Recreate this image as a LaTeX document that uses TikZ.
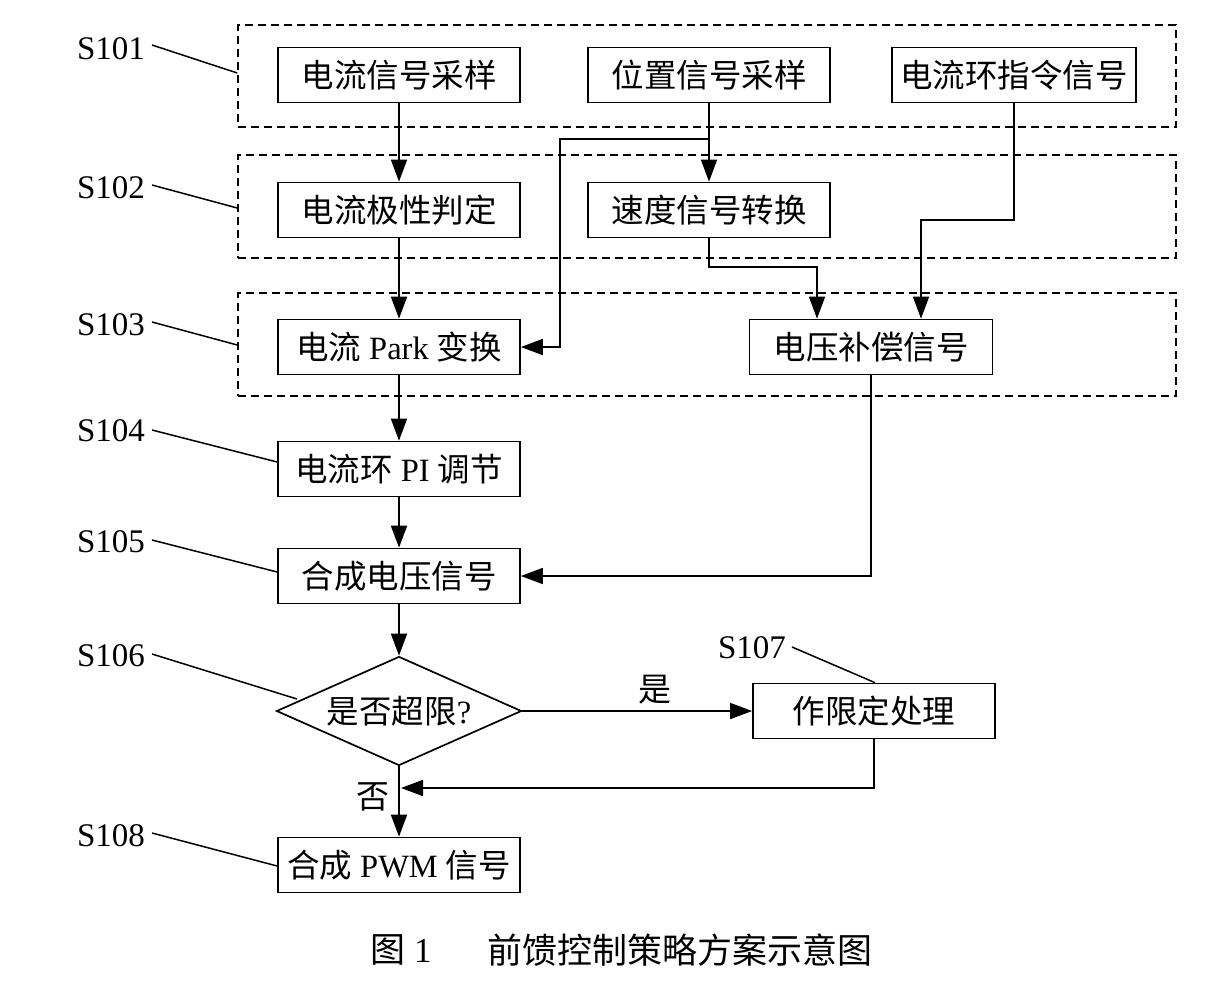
\documentclass[tikz,border=0pt]{standalone}
\usepackage{fontspec}
\setmainfont{Liberation Serif}
\newfontfamily\cjk{Noto Sans CJK SC}
\usetikzlibrary{arrows.meta,shapes.geometric}
\begin{document}
\begin{tikzpicture}[x=1pt,y=-1pt,
  box/.style={draw,line width=1.7pt,minimum width=242pt,minimum height=55pt,inner sep=0pt,font=\fontsize{32.5}{36}\selectfont},
  grp/.style={draw,line width=1.5pt,dash pattern=on 8pt off 5pt,minimum width=938pt,minimum height=102pt,inner sep=0pt},
  arr/.style={line width=1.7pt,-{Triangle[length=22pt,width=16pt]}},
  lbl/.style={font=\fontsize{33}{36}\selectfont,inner sep=0pt},
  lead/.style={line width=1.5pt}]
\useasboundingbox (0,0) rectangle (1228,980);
% groups
\node[grp] (g1) at (707,76) {};
\node[grp,minimum height=103pt] (g2) at (707,206.5) {};
\node[grp,minimum height=103pt] (g3) at (707,344.5) {};
% boxes
\node[box] (a1) at (399,75) {\cjk 电流信号采样};
\node[box] (a2) at (709,75) {\cjk 位置信号采样};
\node[box,minimum width=244pt] (a3) at (1014,75) {\cjk 电流环指令信号};
\node[box] (b1) at (399,210) {\cjk 电流极性判定};
\node[box] (b2) at (709,210) {\cjk 速度信号转换};
\node[box] (c1) at (399,347) {{\cjk 电流}~Park~{\cjk 变换}};
\node[box,minimum width=243pt] (c2) at (871,347) {\cjk 电压补偿信号};
\node[box] (d) at (399,469) {{\cjk 电流环}~PI~{\cjk 调节}};
\node[box] (e) at (399,576) {\cjk 合成电压信号};
\node[draw,diamond,aspect=2.25,minimum width=245pt,minimum height=109pt,inner sep=0pt,line width=1.7pt,font=\fontsize{32.5}{36}\selectfont] (f) at (399,711) {{\cjk 是否超限}?};
\node[box] (g) at (874,711) {\cjk 作限定处理};
\node[box] (h) at (399,865) {{\cjk 合成}~PWM~{\cjk 信号}};
% connectors
\draw[arr] (a1) -- (b1);
\draw[arr] (a2) -- (b2);
\draw[arr] (709,139) -- (560,139) -- (560,347) -- (c1.east);
\draw[arr] (a3.south) |- (921,220) -- ([xshift=50pt]c2.north);
\draw[arr] (b2.south) |- (817,267) -- ([xshift=-54pt]c2.north);
\draw[arr] (b1) -- (c1);
\draw[arr] (c1) -- (d);
\draw[arr] (d) -- (e);
\draw[arr] (c2.south) |- (e.east);
\draw[arr] (e) -- (f);
\draw[arr] (f.east) -- (g.west);
\node[lbl] (yes) at (655,690) {\cjk 是};
\draw[arr] (f.south) -- (h.north);
\coordinate (j) at (401,788);
\draw[arr] (g.south) |- (j);
\node[lbl] (no) at (373,797) {\cjk 否};
% step labels
\node[lbl] (s1) at (111,49) {S101};
\node[lbl] (s2) at (111,188) {S102};
\node[lbl] (s3) at (111,325) {S103};
\node[lbl] (s4) at (111,431) {S104};
\node[lbl] (s5) at (111,542) {S105};
\node[lbl] (s6) at (111,656) {S106};
\node[lbl] (s7) at (752,648) {S107};
\node[lbl] (s8) at (111,836) {S108};
\draw[lead] (152,45) -- (g1.west |- 0,73);
\draw[lead] (152,185) -- (g2.west |- 0,208);
\draw[lead] (152,322) -- (g3.west |- 0,345);
\draw[lead] (152,430) -- (d.west |- 0,462);
\draw[lead] (152,540) -- (e.west |- 0,572);
\draw[lead] (152,654) -- (297,699);
\draw[lead] (792,647) -- (g.north -| 875,0);
\draw[lead] (152,833) -- (h.west |- 0,866);
% caption
\node[font=\fontsize{35}{38}\selectfont,inner sep=0pt] (cap1) at (401,950) {{\cjk 图}~1};
\node[font=\fontsize{35}{38}\selectfont,inner sep=0pt] (cap2) at (680,950) {\cjk 前馈控制策略方案示意图};
\end{tikzpicture}
\end{document}
